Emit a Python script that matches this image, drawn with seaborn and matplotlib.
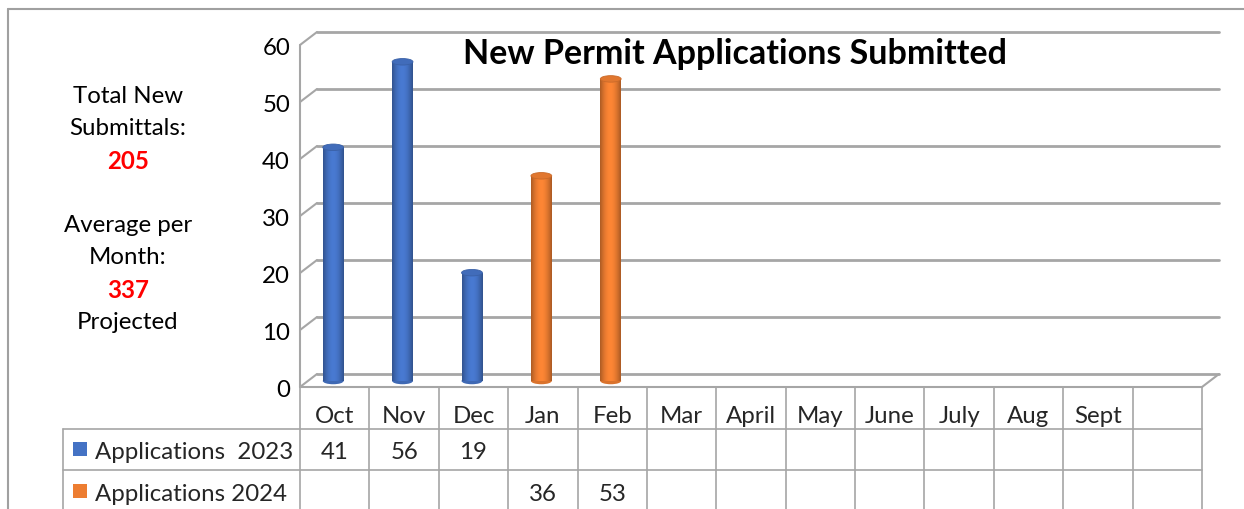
import numpy as np
import pandas as pd
import matplotlib
matplotlib.use("Agg")
import matplotlib.pyplot as plt
import seaborn as sns
from matplotlib.transforms import ScaledTranslation
from matplotlib.patches import Ellipse, Rectangle
from matplotlib.lines import Line2D

# ---------------- data ----------------
months = ["Oct", "Nov", "Dec", "Jan", "Feb", "Mar", "April", "May", "June",
          "July", "Aug", "Sept", ""]
apps_2023 = [41, 56, 19, None, None, None, None, None, None, None, None, None, None]
apps_2024 = [None, None, None, 36, 53, None, None, None, None, None, None, None, None]
series_names = ["Applications  2023", "Applications 2024"]
series_colors = ["#4472C4", "#ED7D31"]
yticks = [0, 10, 20, 30, 40, 50, 60]
title = "New Permit Applications Submitted"
side_lines = [("Total New", "black", "normal"), ("Submittals:", "black", "normal"),
              ("205", "#FF0000", "bold"), ("", "black", "normal"),
              ("Average per", "black", "normal"), ("Month:", "black", "normal"),
              ("337", "#FF0000", "bold"), ("Projected", "black", "normal")]

rows = []
for m, a, b in zip(months, apps_2023, apps_2024):
    rows.append({"month": m, "series": series_names[0], "value": a if a is not None else 0})
    rows.append({"month": m, "series": series_names[1], "value": b if b is not None else 0})
df = pd.DataFrame(rows)

sns.set_theme(style="white")
plt.rcParams["font.family"] = ["Lato", "DejaVu Sans"]

W, H = 1244, 510
fig = plt.figure(figsize=(W / 100, H / 100), dpi=100)

def fx(px):
    return px / W

def fy(py):
    return 1 - py / H

FS = 17.3
TY = 2.5  # vertical text nudge (px)

# main plot (front plane)
x0, x1, ytop, ybot = 300, 1202, 46, 388
ax = fig.add_axes([fx(x0), fy(ybot), fx(x1) - fx(x0), fy(ytop) - fy(ybot)])
ax.set_xlim(-0.5, len(months) - 0.5)
ax.set_ylim(0, 60)

# overlay axes in pixel coordinates
ov = fig.add_axes([0, 0, 1, 1], zorder=-1)
ov.set_xlim(0, W)
ov.set_ylim(H, 0)
ov.axis("off")

grid_c = "#A6A6A6"
dx_back, dy_back = 17, 13

def to_px(xd, yd):
    p = ax.transData.transform((xd, yd))
    return p[0], H - p[1]

# back wall gridlines + side diagonals
for v in yticks:
    fxp, fyp = to_px(-0.5, v)
    rxp, _ = to_px(len(months) - 0.5, v)
    ov.add_line(Line2D([fxp + dx_back, rxp + dx_back], [fyp - dy_back, fyp - dy_back],
                       color=grid_c, lw=2.0))
    ov.add_line(Line2D([fxp, fxp + dx_back], [fyp, fyp - dy_back], color=grid_c, lw=1.5))
fl_x, top_y = to_px(-0.5, 60)
_, base_y = to_px(-0.5, 0)
fr_x, _ = to_px(len(months) - 0.5, 0)
ov.add_line(Line2D([fl_x, fl_x], [top_y, base_y], color=grid_c, lw=1.5))
ov.add_line(Line2D([fr_x, fr_x + dx_back], [base_y, base_y - dy_back], color=grid_c, lw=1.5))

# ---------------- bars ----------------
sns.barplot(data=df, x="month", y="value", hue="series", order=months,
            hue_order=series_names, palette=series_colors, dodge=False,
            width=0.30, ax=ax, legend=False, saturation=1, errorbar=None)
ax.set_xlim(-0.5, len(months) - 0.5)
ax.set_ylim(0, 60)
ax.axis("off")

off = ScaledTranslation(-1.5 / 100, 6 / 100, fig.dpi_scale_trans)
tr = ax.transData + off
px_per_unit = (ybot - ytop) / 60.0
ell_h = 6.5 / px_per_unit

grad = np.linspace(0, 1, 64)
shade = 0.62 + 0.45 * np.sin(np.pi * (grad * 0.85 + 0.08))
for p in list(ax.patches):
    h = p.get_height()
    if h <= 0:
        p.remove()
        continue
    col = np.array(matplotlib.colors.to_rgb(p.get_facecolor()))
    p.set_transform(tr)
    p.set_edgecolor("none")
    xl, w = p.get_x(), p.get_width()
    img = np.clip(col[None, None, :] * shade[None, :, None], 0, 1)
    im = ax.imshow(img, extent=(xl, xl + w, 0, h), aspect="auto", transform=tr,
                   zorder=3, interpolation="bilinear")
    im.set_clip_path(p)
    bottom = Ellipse((xl + w / 2, 0), w, ell_h, transform=tr,
                     facecolor=col * 0.92, edgecolor="none", zorder=2.9)
    ax.add_patch(bottom)
    top = Ellipse((xl + w / 2, h), w, ell_h, transform=tr,
                  facecolor=np.clip(col * 0.95, 0, 1), edgecolor=np.clip(col * 0.85, 0, 1),
                  lw=0.6, zorder=4)
    ax.add_patch(top)
ax.set_xlim(-0.5, len(months) - 0.5)
ax.set_ylim(0, 60)

# y tick labels
for v in yticks:
    _, yp = to_px(-0.5, v)
    ov.text(290, yp + TY, str(v), ha="right", va="center", fontsize=FS, color="black")

# title
ov.text(735, 52 + TY, title, ha="center", va="center", fontsize=24.5, fontweight="bold",
        color="black")

# side annotations
y_start, y_step = 94, 32.3
for i, (t, c, wgt) in enumerate(side_lines):
    if t:
        ov.text(128, y_start + i * y_step + TY, t, ha="center", va="center",
                fontsize=FS, color=c, fontweight=wgt)

# ---------------- data table ----------------
tab_c = "#A6A6A6"
row_edges = [388, 430, 471, 520]
left_x = 63
col_edges = [to_px(i - 0.5, 0)[0] for i in range(len(months) + 1)]
for xe in col_edges:
    ov.add_line(Line2D([xe, xe], [row_edges[0], row_edges[-1]], color=tab_c, lw=1.2))
ov.add_line(Line2D([left_x, left_x], [row_edges[1], row_edges[-1]], color=tab_c, lw=1.2))
for ye in row_edges[1:3]:
    ov.add_line(Line2D([left_x, col_edges[-1]], [ye, ye], color=tab_c, lw=1.2))
ov.add_line(Line2D([col_edges[0], col_edges[-1]], [row_edges[0], row_edges[0]],
                   color=tab_c, lw=1.5))

for i, m in enumerate(months):
    cx = (col_edges[i] + col_edges[i + 1]) / 2
    ov.text(cx, 414 + TY, m, ha="center", va="center", fontsize=FS)
    for vals, yc in ((apps_2023, 450), (apps_2024, 492)):
        if vals[i] is not None:
            ov.text(cx, yc + TY, str(vals[i]), ha="center", va="center", fontsize=FS)

for name, colr, yc in zip(series_names, series_colors, (450, 492)):
    ov.add_patch(Rectangle((73, yc - 7), 14, 14, facecolor=colr, edgecolor="none"))
    ov.text(95, yc + TY, name, ha="left", va="center", fontsize=FS)

# outer border
ov.add_line(Line2D([8, W], [10, 10], color="#A0A0A0", lw=1.5))
ov.add_line(Line2D([8, 8], [10, H], color="#A0A0A0", lw=1.5))

fig.savefig("out.png", dpi=100)
